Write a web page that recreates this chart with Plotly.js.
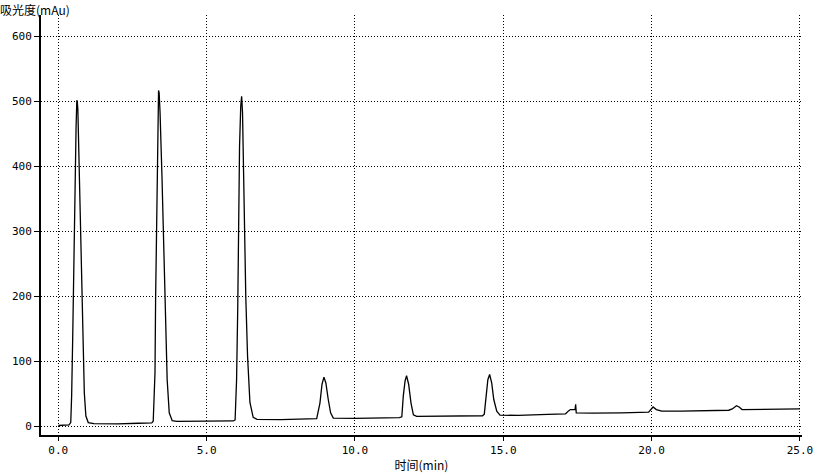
<!DOCTYPE html>
<html>
<head>
<meta charset="utf-8">
<script src="https://cdn.plot.ly/plotly-3.0.1.min.js"></script>
<style>html,body{margin:0;padding:0;background:#fff;}#chart{width:814px;height:473px;}</style>
</head>
<body>
<div id="chart"></div>
<script>
// Retention time (min)
const timeMin = [
  0.00, 0.20, 0.36, 0.42, 0.45, 0.485, 0.52, 0.55, 0.60, 0.625, 0.64, 0.66, 0.71, 0.755, 0.80, 0.83, 0.877, 0.93, 1.01, 1.2, 2.0, 2.7,
  3.15, 3.20, 3.26, 3.28, 3.32, 3.34, 3.36, 3.38, 3.40, 3.43, 3.495, 3.56, 3.62, 3.67, 3.74, 3.84, 4.0, 5.0,
  5.90, 5.96, 6.01, 6.05, 6.08, 6.11, 6.15, 6.18, 6.21, 6.26, 6.32, 6.38, 6.46, 6.57, 6.70, 7.5,
  8.60, 8.71, 8.82, 8.89, 8.955, 9.02, 9.10, 9.18, 9.27, 10.0,
  11.50, 11.58, 11.63, 11.69, 11.74, 11.81, 11.89, 11.97, 12.08, 13.0,
  14.30, 14.36, 14.42, 14.48, 14.54, 14.61, 14.68, 14.78, 14.89, 15.5,
  16.5, 17.10, 17.20, 17.26, 17.42, 17.44, 17.46, 18.0, 19.0,
  19.90, 20.05, 20.16, 20.34, 21.0,
  22.60, 22.72, 22.86, 22.95, 23.05, 24.0, 25.0
];
// Absorbance (mAu)
const absorbance = [
  1.5, 1.8, 2.5, 6, 47, 134, 254, 375, 462, 502, 500, 487, 380, 283, 195, 123, 52, 16, 6, 4.5, 4, 5,
  5.5, 8, 83, 195, 318, 411, 483, 517, 513, 483, 385, 267, 160, 72, 21, 9, 8, 8,
  8.5, 10, 72, 185, 318, 431, 493, 508, 483, 339, 200, 108, 37, 14, 11, 10.5,
  11, 12, 36, 65, 76, 67, 41.5, 21, 13, 12.5,
  13.5, 15, 47, 70, 78, 65, 36, 18, 15.5, 15.5,
  16.5, 19, 47, 72, 80, 67, 41.5, 23.5, 17.5, 17,
  18.5, 19.5, 24, 26, 26, 34, 21, 20.5, 21,
  22, 30, 26, 23.5, 23.5,
  25, 27, 32, 30, 26, 26, 27
];
const xTickVals = [0, 5, 10, 15, 20, 25];
const xTickText = ["0.0", "5.0", "10.0", "15.0", "20.0", "25.0"];
const yTickVals = [0, 100, 200, 300, 400, 500, 600];
const yTickText = ["0", "100", "200", "300", "400", "500", "600"];

const tickFont = {family: "DejaVu Sans Mono, Liberation Mono, monospace", size: 11, color: "#000"};
const cjkFont = {family: "Noto Sans CJK SC, sans-serif", size: 12, color: "#000"};

const trace = {
  x: timeMin, y: absorbance, type: "scatter", mode: "lines",
  line: {color: "#000", width: 1.3}, hoverinfo: "skip"
};

const layout = {
  width: 814, height: 473,
  margin: {l: 41, r: 12, t: 15, b: 38},
  paper_bgcolor: "#fff", plot_bgcolor: "#fff",
  showlegend: false,
  title: {text: "吸光度(mAu)", x: 0, xref: "container", xanchor: "left",
          y: 0.977, yref: "container", yanchor: "middle", font: cjkFont},
  xaxis: {
    range: [-0.583, 25.07], tickvals: xTickVals, ticktext: xTickText,
    showgrid: true, gridcolor: "#000", gridwidth: 1, griddash: "1px,2px",
    zeroline: false, showline: true, linecolor: "#000", linewidth: 2,
    ticks: "outside", ticklen: 4, tickcolor: "#000", tickwidth: 1,
    tickfont: tickFont,
    title: {text: "时间(min)", font: cjkFont, standoff: 6}
  },
  yaxis: {
    range: [-13.1, 633], tickvals: yTickVals, ticktext: yTickText,
    showgrid: true, gridcolor: "#000", gridwidth: 1, griddash: "1px,2px",
    zeroline: false, showline: true, linecolor: "#000", linewidth: 2,
    ticks: "outside", ticklen: 5, tickcolor: "#000", tickwidth: 1,
    tickfont: tickFont
  }
};

Plotly.newPlot("chart", [trace], layout, {staticPlot: true, displayModeBar: false});
</script>
</body>
</html>
